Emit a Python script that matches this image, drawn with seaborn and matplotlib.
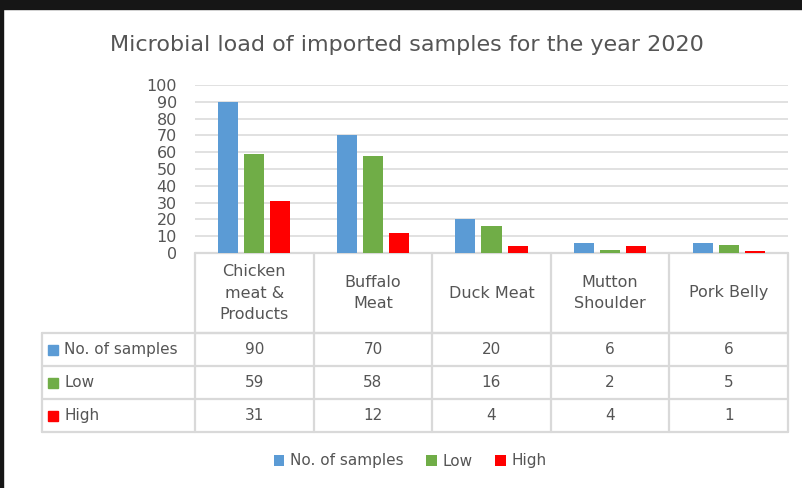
import numpy as np
import pandas as pd
import matplotlib
matplotlib.use("Agg")
import matplotlib.pyplot as plt
import matplotlib.transforms as mtransforms
from matplotlib.lines import Line2D
from matplotlib.patches import Rectangle, Patch
import seaborn as sns

# data
categories = ["Chicken\nmeat &\nProducts", "Buffalo\nMeat", "Duck Meat", "Mutton\nShoulder", "Pork Belly"]
series = ["No. of samples", "Low", "High"]
n_samples = [90, 70, 20, 6, 6]
low = [59, 58, 16, 2, 5]
high = [31, 12, 4, 4, 1]
colors = ["#5B9BD5", "#70AD47", "#FF0000"]

W, H = 803, 488
TXT = "#555555"
LINE = "#D9D9D9"


def fy(py):
    # pixel row (from top) -> figure fraction
    return 1 - py / H


def main():
    df = pd.DataFrame({
        "category": categories * 3,
        "series": np.repeat(series, len(categories)),
        "value": n_samples + low + high,
    })
    table_rows = [n_samples, low, high]

    sns.set_style("white")
    plt.rcParams["font.family"] = ["DejaVu Sans"]

    fig = plt.figure(figsize=(W / 100, H / 100), dpi=100)
    # dark screenshot frame at top and left
    fig.add_artist(Rectangle((0, fy(9)), 1, 9 / H, transform=fig.transFigure, color="#161616", zorder=5))
    fig.add_artist(Rectangle((0, 0), 3 / W, 1, transform=fig.transFigure, color="#161616", zorder=5))

    ax = fig.add_axes([195 / W, fy(253), 593 / W, 168 / H])
    ax.patch.set_visible(False)
    sns.barplot(data=df, x="category", y="value", hue="series", hue_order=series,
                palette=colors, saturation=1, width=0.66, gap=0.23,
                linewidth=0, ax=ax, legend=False, zorder=3)
    ax.set_xlim(-0.5, len(categories) - 0.5)
    ax.set_ylim(0, 100)
    ax.set_yticks(range(0, 101, 10))
    ax.yaxis.grid(True, color=LINE, linewidth=1.1, zorder=0)
    ax.set_axisbelow(True)
    ax.tick_params(axis="y", length=0, pad=13, labelsize=11.5, labelcolor=TXT)
    ax.tick_params(axis="x", length=0, labelbottom=False)
    ax.set_xlabel("")
    ax.set_ylabel("")
    for s in ax.spines.values():
        s.set_visible(False)

    fig.text(407 / W, fy(45), "Microbial load of imported samples for the year 2020",
             ha="center", va="center", fontsize=16, color=TXT)

    # data table under the axis, x in data units, y in figure fraction
    tr = mtransforms.blended_transform_factory(ax.transData, fig.transFigure)
    colw = 593 / len(categories)

    def dx(px):
        return -0.5 + (px - 195) / colw

    ncat = len(categories)
    left = dx(42)
    lw = 1.6
    # header row (top border sits under the bars)
    fig.add_artist(Line2D([-0.5, ncat - 0.5], [fy(253), fy(253)], transform=tr, color=LINE, lw=lw, zorder=-1))
    fig.add_artist(Line2D([-0.5, ncat - 0.5], [fy(333), fy(333)], transform=tr, color=LINE, lw=lw))
    for y in [333, 366, 399, 432]:
        fig.add_artist(Line2D([left, ncat - 0.5], [fy(y), fy(y)], transform=tr, color=LINE, lw=lw))
    for i in range(ncat + 1):
        fig.add_artist(Line2D([i - 0.5, i - 0.5], [fy(253), fy(432)], transform=tr, color=LINE, lw=lw))
    fig.add_artist(Line2D([left, left], [fy(333), fy(432)], transform=tr, color=LINE, lw=lw))

    for i, cat in enumerate(categories):
        fig.text(i, fy(293), cat, transform=tr, ha="center", va="center",
                 fontsize=11.5, color=TXT, linespacing=1.55)

    row_centers = [349.5, 382.5, 415.5]
    for r, (name, vals, col) in enumerate(zip(series, table_rows, colors)):
        yc = fy(row_centers[r])
        fig.add_artist(Line2D([dx(53)], [yc], transform=tr, marker="s", markersize=7,
                              color=col, linestyle="none"))
        fig.text(dx(64), yc, name, transform=tr, ha="left", va="center", fontsize=11, color=TXT)
        for i, v in enumerate(vals):
            fig.text(i, yc, str(v), transform=tr, ha="center", va="center", fontsize=11, color=TXT)

    handles = [Patch(facecolor=c, edgecolor="none") for c in colors]
    fig.legend(handles, series, loc="center", bbox_to_anchor=(410 / W, fy(461)), ncol=3,
               frameon=False, handlelength=0.7, handleheight=0.7, handletextpad=0.35,
               columnspacing=1.5, fontsize=11, labelcolor=TXT)

    fig.savefig("out.png", dpi=100, facecolor="white")


if __name__ == "__main__":
    main()
